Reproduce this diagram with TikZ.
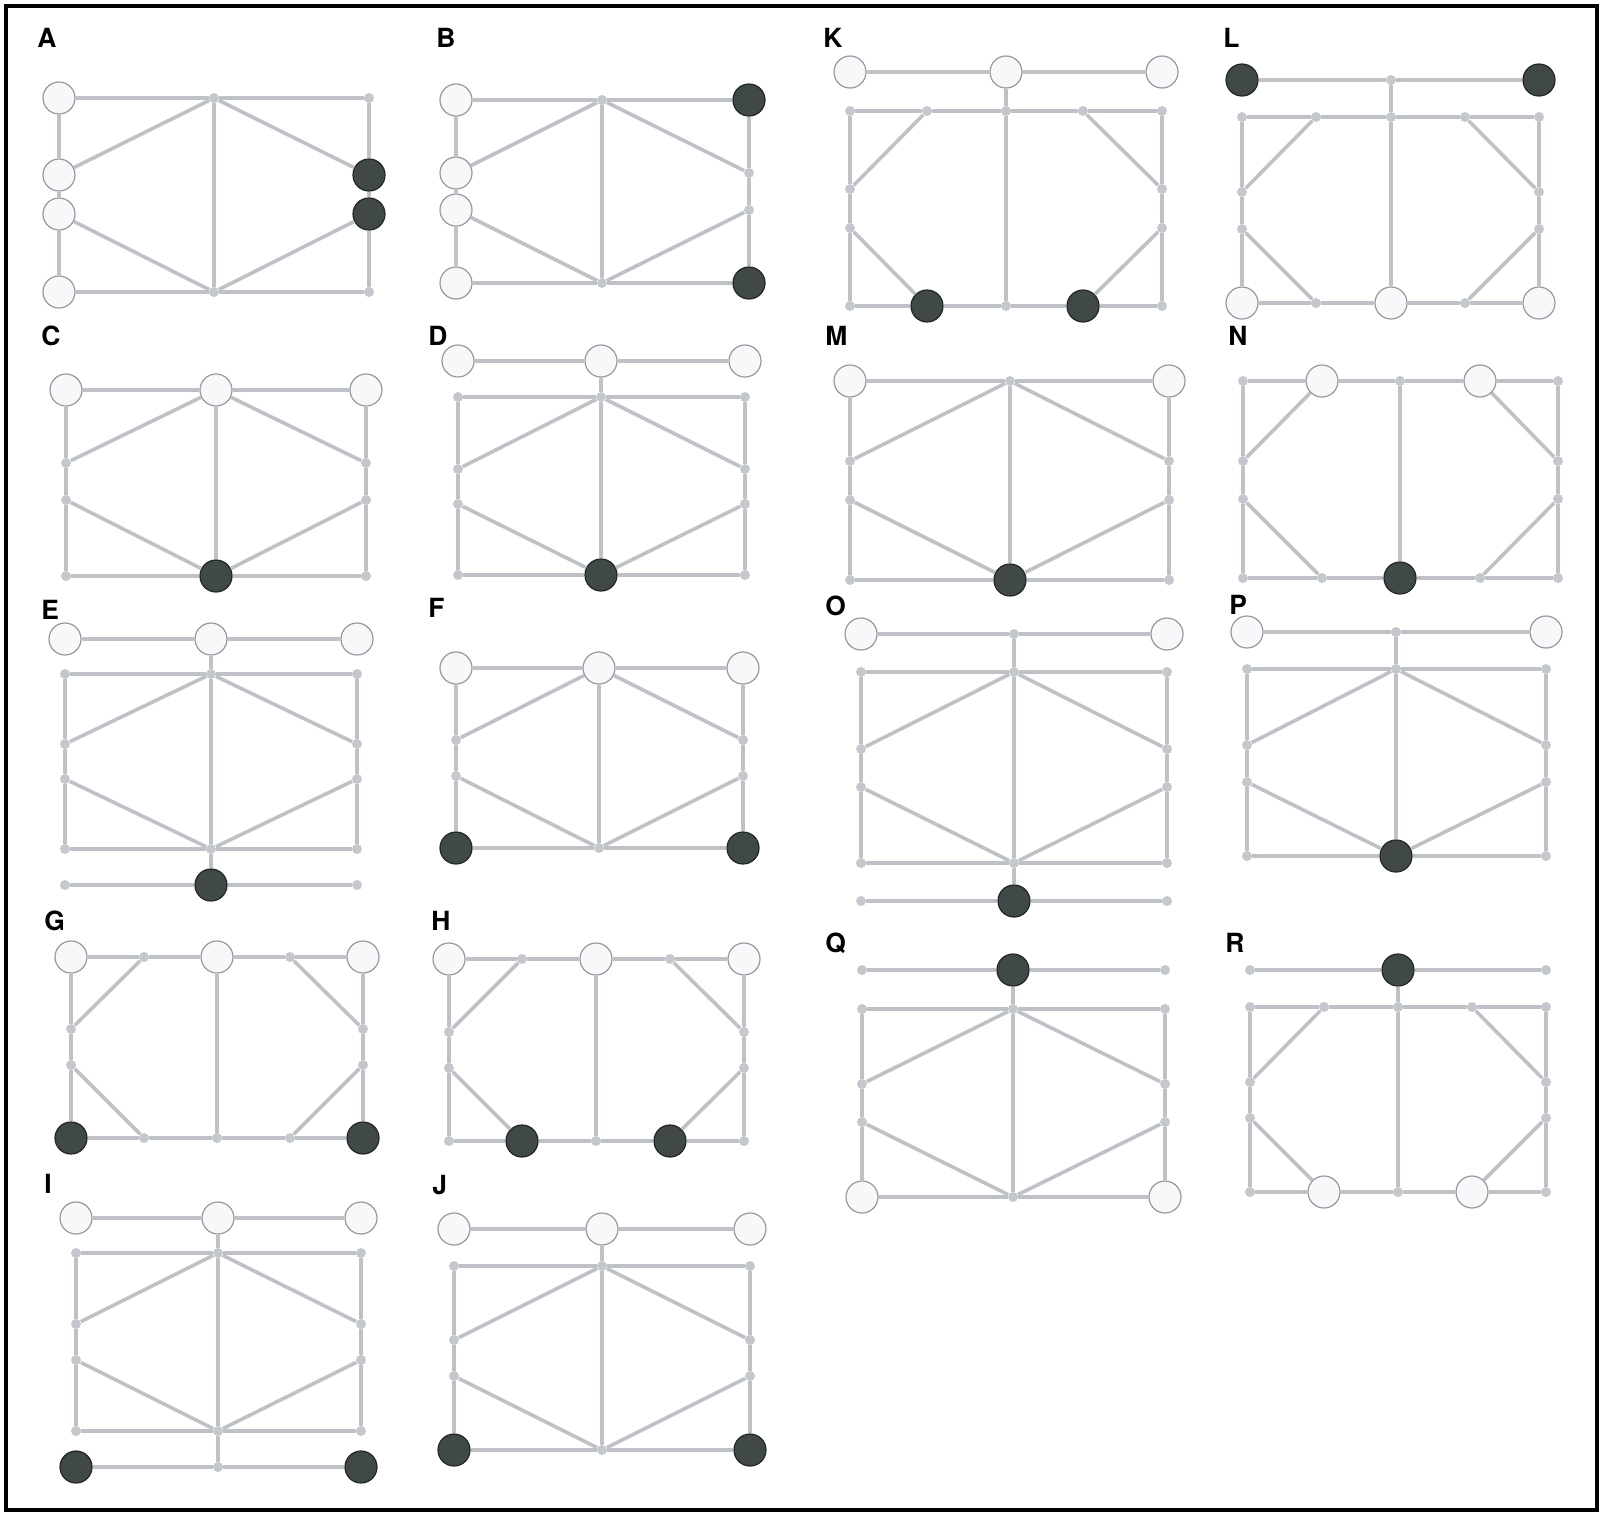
\documentclass[tikz,border=0pt]{standalone}
\usepackage{fontspec}
\setmainfont{TeX Gyre Heros}
\usepackage{tikz}
\usetikzlibrary{positioning}

\definecolor{linkgray}{RGB}{190,193,198}
\definecolor{dotgray}{RGB}{196,199,204}
\definecolor{ringgray}{RGB}{150,153,158}
\definecolor{paleface}{RGB}{247,248,250}
\definecolor{darkface}{RGB}{64,72,72}
\definecolor{darkring}{RGB}{34,38,38}

\newcommand\hexlinks{tl/tm,tm/tr,tl/l1,l1/l2,l2/bl,tr/r1,r1/r2,r2/br,bl/bm,bm/br,tm/bm,tm/l1,tm/r1,bm/l2,bm/r2}
\newcommand\octlinks{tl/tq,tq/tm,tm/tp,tp/tr,tl/l1,l1/l2,l2/bl,tr/r1,r1/r2,r2/br,bl/bq,bq/bm,bm/bp,bp/br,tm/bm,tq/l1,tp/r1,l2/bq,r2/bp}
\newcommand\toplinks{ua/um,um/ub,um/tm}
\newcommand\botlinks{da/dm,dm/db,dm/bm}

\begin{document}
\begin{tikzpicture}[x=0.5pt,y=-0.5pt,
  dot/.style={circle,fill=dotgray,inner sep=0,minimum size=5pt},
  wht/.style={circle,draw=ringgray,line width=0.6pt,fill=paleface,inner sep=0,minimum size=16pt},
  drk/.style={circle,draw=darkring,line width=0.6pt,fill=darkface,inner sep=0,minimum size=16pt},
  link/.style={draw=linkgray,line width=1.8pt},
  lbl/.style={anchor=base west,inner sep=0,font=\bfseries\fontsize{13.2}{15}\selectfont}]

\useasboundingbox (0,0) rectangle (1602,1517);
\draw[line width=2.3pt] (6,6) rectangle (1597,1510);

% A
\node[lbl] (labA) at (37,47) {A};
\foreach \n/\x/\y/\s in {tl/59/98/wht,tm/214/98/dot,tr/369/98/dot,l1/59/175/wht,l2/59/214/wht,r1/369/175/drk,r2/369/214/drk,bl/59/292/wht,bm/214/292/dot,br/369/292/dot}
  \node[\s] (A\n) at (\x,\y) {};
\foreach \a/\b in \hexlinks \draw[link] (A\a) -- (A\b);

% B
\node[lbl] (labB) at (436,47) {B};
\foreach \n/\x/\y/\s in {tl/456/100/wht,tm/602/100/dot,tr/749/100/drk,l1/456/173/wht,l2/456/210/wht,r1/749/173/dot,r2/749/210/dot,bl/456/283/wht,bm/602/283/dot,br/749/283/drk}
  \node[\s] (B\n) at (\x,\y) {};
\foreach \a/\b in \hexlinks \draw[link] (B\a) -- (B\b);

% C
\node[lbl] (labC) at (41,345) {C};
\foreach \n/\x/\y/\s in {tl/66/390/wht,tm/216/390/wht,tr/366/390/wht,l1/66/463/dot,l2/66/500/dot,r1/366/463/dot,r2/366/500/dot,bl/66/576/dot,bm/216/576/drk,br/366/576/dot}
  \node[\s] (C\n) at (\x,\y) {};
\foreach \a/\b in \hexlinks \draw[link] (C\a) -- (C\b);

% D
\node[lbl] (labD) at (428,345) {D};
\foreach \n/\x/\y/\s in {ua/458/361/wht,um/601/361/wht,ub/745/361/wht,tl/458/397/dot,tm/601/397/dot,tr/745/397/dot,l1/458/469/dot,l2/458/504/dot,r1/745/469/dot,r2/745/504/dot,bl/458/575/dot,bm/601/575/drk,br/745/575/dot}
  \node[\s] (D\n) at (\x,\y) {};
\foreach \a/\b in \hexlinks \draw[link] (D\a) -- (D\b);
\foreach \a/\b in \toplinks \draw[link] (D\a) -- (D\b);

% E
\node[lbl] (labE) at (41,619) {E};
\foreach \n/\x/\y/\s in {ua/65/639/wht,um/211/639/wht,ub/357/639/wht,tl/65/674/dot,tm/211/674/dot,tr/357/674/dot,l1/65/744/dot,l2/65/779/dot,r1/357/744/dot,r2/357/779/dot,bl/65/849/dot,bm/211/849/dot,br/357/849/dot,da/65/885/dot,dm/211/885/drk,db/357/885/dot}
  \node[\s] (E\n) at (\x,\y) {};
\foreach \a/\b in \hexlinks \draw[link] (E\a) -- (E\b);
\foreach \a/\b in \toplinks \draw[link] (E\a) -- (E\b);
\foreach \a/\b in \botlinks \draw[link] (E\a) -- (E\b);

% F
\node[lbl] (labF) at (428,617) {F};
\foreach \n/\x/\y/\s in {tl/456/668/wht,tm/599/668/wht,tr/743/668/wht,l1/456/740/dot,l2/456/776/dot,r1/743/740/dot,r2/743/776/dot,bl/456/848/drk,bm/599/848/dot,br/743/848/drk}
  \node[\s] (F\n) at (\x,\y) {};
\foreach \a/\b in \hexlinks \draw[link] (F\a) -- (F\b);

% G
\node[lbl] (labG) at (44,930) {G};
\foreach \n/\x/\y/\s in {tl/71/957/wht,tq/144/957/dot,tm/217/957/wht,tp/290/957/dot,tr/363/957/wht,l1/71/1029/dot,l2/71/1065/dot,r1/363/1029/dot,r2/363/1065/dot,bl/71/1138/drk,bq/144/1138/dot,bm/217/1138/dot,bp/290/1138/dot,br/363/1138/drk}
  \node[\s] (G\n) at (\x,\y) {};
\foreach \a/\b in \octlinks \draw[link] (G\a) -- (G\b);

% H
\node[lbl] (labH) at (431,930) {H};
\foreach \n/\x/\y/\s in {tl/449/959/wht,tq/522/959/dot,tm/596/959/wht,tp/670/959/dot,tr/744/959/wht,l1/449/1032/dot,l2/449/1068/dot,r1/744/1032/dot,r2/744/1068/dot,bl/449/1141/dot,bq/522/1141/drk,bm/596/1141/dot,bp/670/1141/drk,br/744/1141/dot}
  \node[\s] (H\n) at (\x,\y) {};
\foreach \a/\b in \octlinks \draw[link] (H\a) -- (H\b);

% I
\node[lbl] (labI) at (44,1193) {I};
\foreach \n/\x/\y/\s in {ua/76/1218/wht,um/218/1218/wht,ub/361/1218/wht,tl/76/1253/dot,tm/218/1253/dot,tr/361/1253/dot,l1/76/1324/dot,l2/76/1360/dot,r1/361/1324/dot,r2/361/1360/dot,bl/76/1431/dot,bm/218/1431/dot,br/361/1431/dot,da/76/1467/drk,dm/218/1467/dot,db/361/1467/drk}
  \node[\s] (I\n) at (\x,\y) {};
\foreach \a/\b in \hexlinks \draw[link] (I\a) -- (I\b);
\foreach \a/\b in \toplinks \draw[link] (I\a) -- (I\b);
\foreach \a/\b in \botlinks \draw[link] (I\a) -- (I\b);

% J
\node[lbl] (labJ) at (432,1194) {J};
\foreach \n/\x/\y/\s in {ua/454/1229/wht,um/602/1229/wht,ub/750/1229/wht,tl/454/1266/dot,tm/602/1266/dot,tr/750/1266/dot,l1/454/1340/dot,l2/454/1376/dot,r1/750/1340/dot,r2/750/1376/dot,bl/454/1450/drk,bm/602/1450/dot,br/750/1450/drk}
  \node[\s] (J\n) at (\x,\y) {};
\foreach \a/\b in \hexlinks \draw[link] (J\a) -- (J\b);
\foreach \a/\b in \toplinks \draw[link] (J\a) -- (J\b);

% K
\node[lbl] (labK) at (823,47) {K};
\foreach \n/\x/\y/\s in {ua/850/72/wht,um/1006/72/wht,ub/1162/72/wht,tl/850/111/dot,tq/927/111/dot,tm/1006/111/dot,tp/1083/111/dot,tr/1162/111/dot,l1/850/189/dot,l2/850/228/dot,r1/1162/189/dot,r2/1162/228/dot,bl/850/306/dot,bq/927/306/drk,bm/1006/306/dot,bp/1083/306/drk,br/1162/306/dot}
  \node[\s] (K\n) at (\x,\y) {};
\foreach \a/\b in \octlinks \draw[link] (K\a) -- (K\b);
\foreach \a/\b in \toplinks \draw[link] (K\a) -- (K\b);

% L
\node[lbl] (labL) at (1223,47) {L};
\foreach \n/\x/\y/\s in {ua/1242/80/drk,um/1391/80/dot,ub/1539/80/drk,tl/1242/117/dot,tq/1316/117/dot,tm/1391/117/dot,tp/1465/117/dot,tr/1539/117/dot,l1/1242/192/dot,l2/1242/229/dot,r1/1539/192/dot,r2/1539/229/dot,bl/1242/303/wht,bq/1316/303/dot,bm/1391/303/wht,bp/1465/303/dot,br/1539/303/wht}
  \node[\s] (L\n) at (\x,\y) {};
\foreach \a/\b in \octlinks \draw[link] (L\a) -- (L\b);
\foreach \a/\b in \toplinks \draw[link] (L\a) -- (L\b);

% M
\node[lbl] (labM) at (825,345) {M};
\foreach \n/\x/\y/\s in {tl/850/381/wht,tm/1010/381/dot,tr/1169/381/wht,l1/850/461/dot,l2/850/500/dot,r1/1169/461/dot,r2/1169/500/dot,bl/850/580/dot,bm/1010/580/drk,br/1169/580/dot}
  \node[\s] (M\n) at (\x,\y) {};
\foreach \a/\b in \hexlinks \draw[link] (M\a) -- (M\b);

% N
\node[lbl] (labN) at (1228,345) {N};
\foreach \n/\x/\y/\s in {tl/1243/381/dot,tq/1322/381/wht,tm/1400/381/dot,tp/1480/381/wht,tr/1558/381/dot,l1/1243/461/dot,l2/1243/499/dot,r1/1558/461/dot,r2/1558/499/dot,bl/1243/578/dot,bq/1322/578/dot,bm/1400/578/drk,bp/1480/578/dot,br/1558/578/dot}
  \node[\s] (N\n) at (\x,\y) {};
\foreach \a/\b in \octlinks \draw[link] (N\a) -- (N\b);

% O
\node[lbl] (labO) at (825,615) {O};
\foreach \n/\x/\y/\s in {ua/861/634/wht,um/1014/634/dot,ub/1167/634/wht,tl/861/672/dot,tm/1014/672/dot,tr/1167/672/dot,l1/861/749/dot,l2/861/787/dot,r1/1167/749/dot,r2/1167/787/dot,bl/861/863/dot,bm/1014/863/dot,br/1167/863/dot,da/861/901/dot,dm/1014/901/drk,db/1167/901/dot}
  \node[\s] (O\n) at (\x,\y) {};
\foreach \a/\b in \hexlinks \draw[link] (O\a) -- (O\b);
\foreach \a/\b in \toplinks \draw[link] (O\a) -- (O\b);
\foreach \a/\b in \botlinks \draw[link] (O\a) -- (O\b);

% P
\node[lbl] (labP) at (1229,614) {P};
\foreach \n/\x/\y/\s in {ua/1247/632/wht,um/1396/632/dot,ub/1546/632/wht,tl/1247/669/dot,tm/1396/669/dot,tr/1546/669/dot,l1/1247/745/dot,l2/1247/782/dot,r1/1546/745/dot,r2/1546/782/dot,bl/1247/856/dot,bm/1396/856/drk,br/1546/856/dot}
  \node[\s] (P\n) at (\x,\y) {};
\foreach \a/\b in \hexlinks \draw[link] (P\a) -- (P\b);
\foreach \a/\b in \toplinks \draw[link] (P\a) -- (P\b);

% Q
\node[lbl] (labQ) at (825,952) {Q};
\foreach \n/\x/\y/\s in {ua/862/970/dot,um/1013/970/drk,ub/1165/970/dot,tl/862/1009/dot,tm/1013/1009/dot,tr/1165/1009/dot,l1/862/1084/dot,l2/862/1122/dot,r1/1165/1084/dot,r2/1165/1122/dot,bl/862/1197/wht,bm/1013/1197/dot,br/1165/1197/wht}
  \node[\s] (Q\n) at (\x,\y) {};
\foreach \a/\b in \hexlinks \draw[link] (Q\a) -- (Q\b);
\foreach \a/\b in \toplinks \draw[link] (Q\a) -- (Q\b);

% R
\node[lbl] (labR) at (1225,952) {R};
\foreach \n/\x/\y/\s in {ua/1250/970/dot,um/1398/970/drk,ub/1546/970/dot,tl/1250/1007/dot,tq/1324/1007/dot,tm/1398/1007/dot,tp/1472/1007/dot,tr/1546/1007/dot,l1/1250/1082/dot,l2/1250/1118/dot,r1/1546/1082/dot,r2/1546/1118/dot,bl/1250/1192/dot,bq/1324/1192/wht,bm/1398/1192/dot,bp/1472/1192/wht,br/1546/1192/dot}
  \node[\s] (R\n) at (\x,\y) {};
\foreach \a/\b in \octlinks \draw[link] (R\a) -- (R\b);
\foreach \a/\b in \toplinks \draw[link] (R\a) -- (R\b);

\end{tikzpicture}
\end{document}
